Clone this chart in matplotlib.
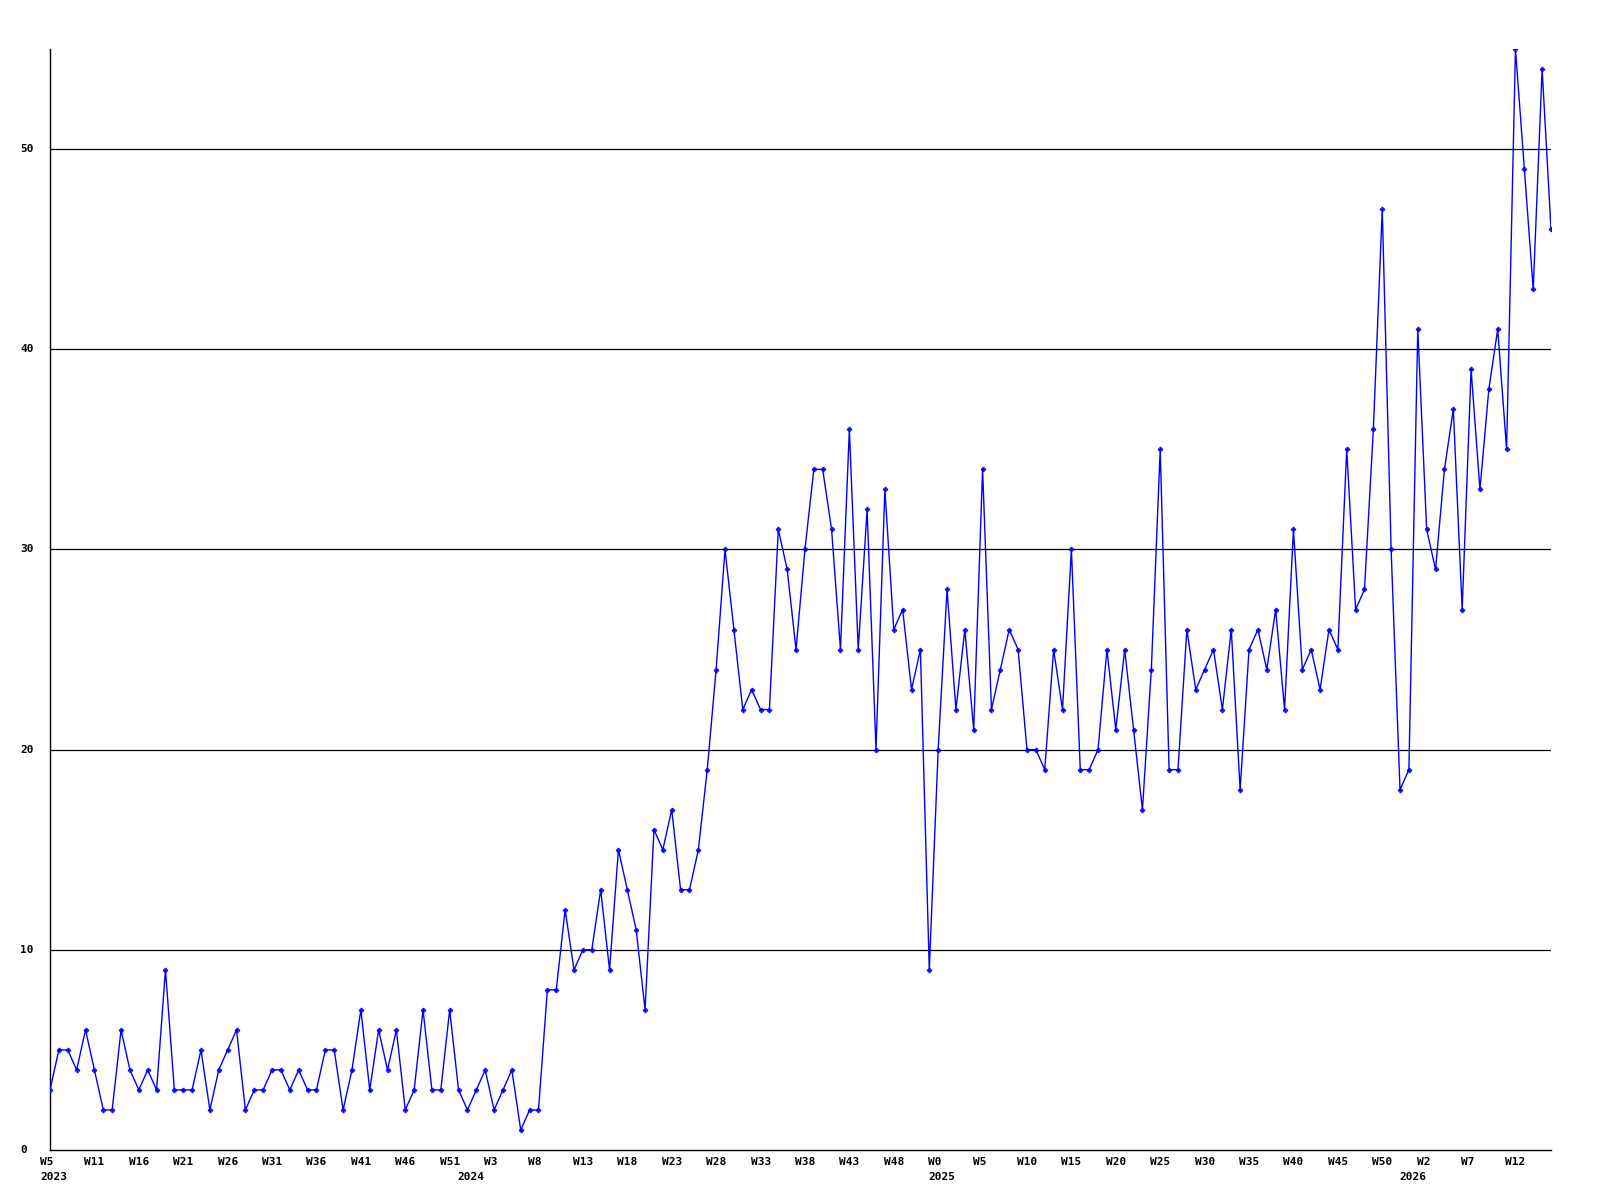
import matplotlib
matplotlib.use("Agg")
import matplotlib.pyplot as plt
import matplotlib.transforms as mtransforms

# weekly counts, 2023 W5 .. 2026 W16
counts = [
    3, 5, 5, 4, 6, 4, 2, 2, 6, 4, 3, 4, 3, 9, 3, 3, 3, 5, 2, 4, 5, 6, 2, 3, 3, 4, 4, 3, 4, 3, 3,
    5, 5, 2, 4, 7, 3, 6, 4, 6, 2, 3, 7, 3, 3, 7, 3, 2, 3, 4, 2, 3, 4, 1, 2, 2, 8, 8, 12, 9,
    10, 10, 13, 9, 15, 13, 11, 7, 16, 15, 17, 13, 13, 15, 19,
    24, 30, 26, 22, 23, 22, 22, 31, 29, 25, 30, 34, 34, 31, 25, 36, 25, 32, 20, 33, 26, 27, 23, 25, 9, 20,
    28, 22, 26, 21, 34, 22, 24, 26, 25, 20, 20, 19, 25, 22, 30, 19, 19, 20, 25, 21, 25, 21, 17,
    24, 35, 19, 19, 26, 23, 24, 25, 22, 26, 18, 25, 26, 24, 27, 22, 31, 24, 25, 23, 26, 25, 35, 27,
    28, 36, 47, 30, 18, 19, 41, 31, 29, 34, 37, 27, 39, 33, 38, 41, 35, 55, 49, 43, 54, 46,
]

# one label every 5 weeks
week_labels = [
    "W5", "W11", "W16", "W21", "W26", "W31", "W36", "W41", "W46", "W51",
    "W3", "W8", "W13", "W18", "W23", "W28", "W33", "W38", "W43", "W48",
    "W0", "W5", "W10", "W15", "W20", "W25", "W30", "W35", "W40", "W45",
    "W50", "W2", "W7", "W12",
]
# year label sits at the first week of each year (point index)
year_starts = [0, 47, 100, 153]
years = ["2023", "2024", "2025", "2026"]

y_ticks = [0, 10, 20, 30, 40, 50]

font = dict(family="DejaVu Sans Mono", fontweight="bold", fontsize=8)

fig = plt.figure(figsize=(16, 12), dpi=100)
ax = fig.add_axes([50 / 1600, 1 - 1150 / 1200, 1501 / 1600, 1101 / 1200])

x = list(range(len(counts)))
ax.plot(x, counts, color="#0000ff", lw=1.0, marker="P", ms=3.5,
        mec="#0000ff", mfc="#0000ff", mew=0.3, zorder=3)

ax.set_xlim(0, len(counts) - 1)
ax.set_ylim(0, 55)

for v in y_ticks[1:]:
    ax.axhline(v, color="black", lw=0.9, zorder=1)

for s in ["top", "right"]:
    ax.spines[s].set_visible(False)
ax.spines["left"].set_linewidth(1.0)
ax.spines["bottom"].set_linewidth(1.0)

# y labels left-aligned near the figure edge
ax.set_yticks(y_ticks)
ax.set_yticklabels([])
ax.tick_params(axis="y", length=0)
trans_y = mtransforms.blended_transform_factory(fig.transFigure, ax.transData)
for v in y_ticks:
    ax.text(20 / 1600, v, str(v), transform=trans_y, ha="left", va="center", **font)

# x labels: week row plus year row, left edge a little before the point
ax.set_xticks([])
trans_x = mtransforms.blended_transform_factory(ax.transData, fig.transFigure)
shift = 10 / 8.87
for k, lab in enumerate(week_labels):
    ax.text(k * 5 - shift, 1 - 1162 / 1200, lab, transform=trans_x,
            ha="left", va="center", **font)
for pos, yr in zip(year_starts, years):
    ax.text(pos - shift, 1 - 1177 / 1200, yr, transform=trans_x,
            ha="left", va="center", **font)

fig.savefig("out.png", dpi=100)
